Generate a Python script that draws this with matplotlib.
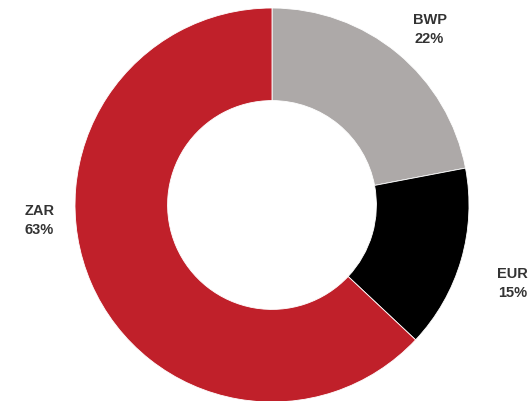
import matplotlib.pyplot as plt
import numpy as np

# Currency split
currencies = ["BWP", "EUR", "ZAR"]
shares = [22, 15, 63]
colors = ["#ADA9A8", "#000000", "#C0202A"]

# label placement (data coords, radius = 1)
label_pos = [(0.80, 0.89), (1.22, -0.40), (-1.18, -0.08)]

plt.rcParams["font.family"] = ["Liberation Sans", "DejaVu Sans"]

fig = plt.figure(figsize=(5.32, 4.01), dpi=100)
ax = fig.add_axes([75 / 532, -1 / 401, 394 / 532, 394 / 401])

ax.pie(shares, colors=colors, startangle=90, counterclock=False,
       wedgeprops=dict(width=0.47, edgecolor="white", linewidth=0.6))

for name, val, (x, y) in zip(currencies, shares, label_pos):
    ax.text(x, y, f"{name}\n{val}%", ha="center", va="center",
            fontsize=10.5, fontweight="bold", color="#333333",
            linespacing=1.45, clip_on=False)

ax.set_xlim(-1, 1)
ax.set_ylim(-1, 1)
ax.set_aspect("equal")
ax.axis("off")

fig.savefig("out.png", dpi=100)
